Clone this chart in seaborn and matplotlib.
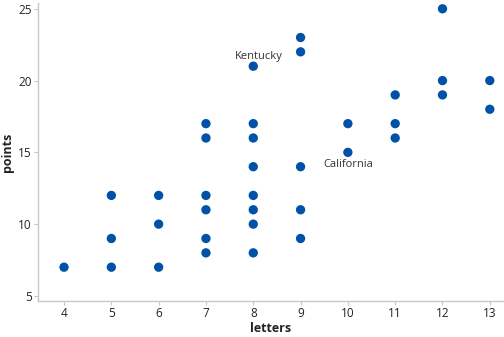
import matplotlib
matplotlib.use("Agg")
import matplotlib.pyplot as plt
import seaborn as sns
import pandas as pd

letters = [4, 5, 5, 5, 6, 6, 6, 7, 7, 7, 7, 7, 7,
           8, 8, 8, 8, 8, 8, 8, 8, 9, 9, 9, 9, 9,
           10, 10, 11, 11, 11, 12, 12, 12, 13, 13]
points = [7, 7, 9, 12, 7, 10, 12, 8, 9, 11, 12, 16, 17,
          8, 10, 11, 12, 14, 16, 17, 21, 9, 11, 14, 22, 23,
          15, 17, 16, 17, 19, 19, 20, 25, 18, 20]
label_names = ["Kentucky", "California"]
label_x = [8, 10]
label_y = [21, 15]
x_ticks = [4, 5, 6, 7, 8, 9, 10, 11, 12, 13]
y_ticks = [5, 10, 15, 20, 25]

df = pd.DataFrame({"letters": letters, "points": points})

sns.set_style("white")
plt.rcParams["font.family"] = ["Open Sans", "DejaVu Sans"]

fig = plt.figure(figsize=(5.04, 3.37), dpi=100)
ax = fig.add_axes([0.0754, 0.107, 0.9246, 0.884])
sns.scatterplot(data=df, x="letters", y="points", ax=ax, s=45,
                color="#0152a6", edgecolor="none", linewidth=0)

ax.set_xlim(3.45, 13.3)
ax.set_ylim(4.65, 25.4)
ax.set_xticks(x_ticks)
ax.set_yticks(y_ticks)
ax.tick_params(axis="both", length=3, width=0.8, color="#c8c8c8",
               labelsize=8.5, labelcolor="#222222", pad=1.5, direction="out")
ax.tick_params(left=True, bottom=True)
for side in ["top", "right"]:
    ax.spines[side].set_visible(False)
for side in ["left", "bottom"]:
    ax.spines[side].set_color("#c8c8c8")
    ax.spines[side].set_linewidth(1.0)

ax.set_xlabel("letters", fontsize=9, fontweight="bold", color="#222222", labelpad=1.5)
ax.set_ylabel("points", fontsize=9, fontweight="bold", color="#222222", labelpad=3)

ax.annotate(label_names[0], (label_x[0], label_y[0]), xytext=(4, 3),
            textcoords="offset points", ha="center", va="bottom",
            fontsize=8, color="#333333")
ax.annotate(label_names[1], (label_x[1], label_y[1]), xytext=(0, -5),
            textcoords="offset points", ha="center", va="top",
            fontsize=8, color="#333333")

fig.savefig("out.png", dpi=100)
